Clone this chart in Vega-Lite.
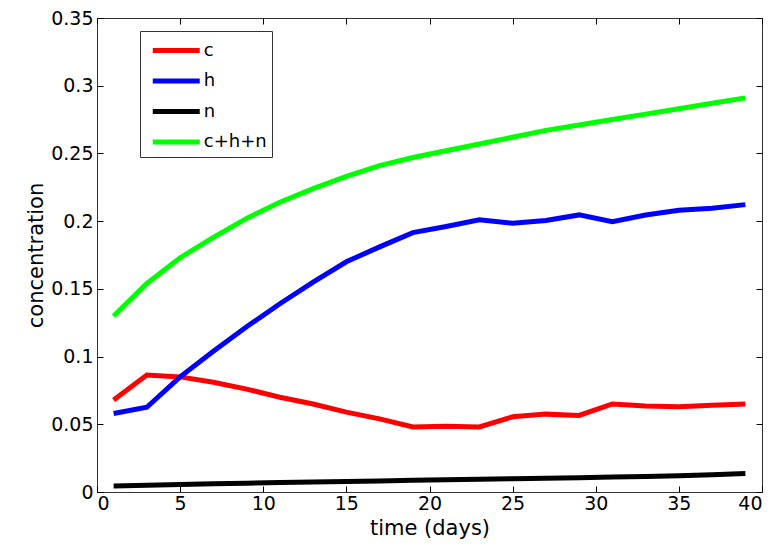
{
  "$schema": "https://vega.github.io/schema/vega-lite/v6.json",
  "width": 665,
  "height": 474,
  "autosize": {"type": "none"},
  "padding": {"left": 97, "top": 18, "right": 15, "bottom": 60},
  "background": "white",
  "config": {
    "view": {"stroke": "#333333", "strokeWidth": 1},
    "font": "DejaVu Sans",
    "axis": {"grid": false, "domain": false, "labelColor": "black", "titleColor": "black", "labelFont": "DejaVu Sans", "titleFont": "DejaVu Sans", "labelFontSize": 19, "titleFontSize": 21, "titleFontWeight": "normal"}
  },
  "data": {"values": [
    {"t":1,"s":"c","v":0.068},{"t":3,"s":"c","v":0.0864},{"t":5,"s":"c","v":0.085},{"t":7,"s":"c","v":0.081},{"t":9,"s":"c","v":0.076},{"t":11,"s":"c","v":0.07},{"t":13,"s":"c","v":0.065},{"t":15,"s":"c","v":0.059},{"t":17,"s":"c","v":0.054},{"t":19,"s":"c","v":0.048},{"t":21,"s":"c","v":0.0485},{"t":23,"s":"c","v":0.048},{"t":25,"s":"c","v":0.0555},{"t":27,"s":"c","v":0.0575},{"t":29,"s":"c","v":0.0565},{"t":31,"s":"c","v":0.065},{"t":33,"s":"c","v":0.0635},{"t":35,"s":"c","v":0.063},{"t":37,"s":"c","v":0.064},{"t":39,"s":"c","v":0.065},
    {"t":1,"s":"h","v":0.058},{"t":3,"s":"h","v":0.0626},{"t":5,"s":"h","v":0.085},{"t":7,"s":"h","v":0.104},{"t":9,"s":"h","v":0.122},{"t":11,"s":"h","v":0.139},{"t":13,"s":"h","v":0.155},{"t":15,"s":"h","v":0.17},{"t":17,"s":"h","v":0.181},{"t":19,"s":"h","v":0.1915},{"t":21,"s":"h","v":0.196},{"t":23,"s":"h","v":0.201},{"t":25,"s":"h","v":0.1984},{"t":27,"s":"h","v":0.2005},{"t":29,"s":"h","v":0.2046},{"t":31,"s":"h","v":0.1995},{"t":33,"s":"h","v":0.2045},{"t":35,"s":"h","v":0.208},{"t":37,"s":"h","v":0.2095},{"t":39,"s":"h","v":0.2122},
    {"t":1,"s":"n","v":0.0045},{"t":3,"s":"n","v":0.005},{"t":5,"s":"n","v":0.0055},{"t":7,"s":"n","v":0.006},{"t":9,"s":"n","v":0.0065},{"t":11,"s":"n","v":0.007},{"t":13,"s":"n","v":0.0074},{"t":15,"s":"n","v":0.0078},{"t":17,"s":"n","v":0.0082},{"t":19,"s":"n","v":0.0086},{"t":21,"s":"n","v":0.009},{"t":23,"s":"n","v":0.0094},{"t":25,"s":"n","v":0.0098},{"t":27,"s":"n","v":0.0102},{"t":29,"s":"n","v":0.0106},{"t":31,"s":"n","v":0.011},{"t":33,"s":"n","v":0.0115},{"t":35,"s":"n","v":0.012},{"t":37,"s":"n","v":0.0128},{"t":39,"s":"n","v":0.0137},
    {"t":1,"s":"c+h+n","v":0.13},{"t":3,"s":"c+h+n","v":0.154},{"t":5,"s":"c+h+n","v":0.173},{"t":7,"s":"c+h+n","v":0.188},{"t":9,"s":"c+h+n","v":0.202},{"t":11,"s":"c+h+n","v":0.214},{"t":13,"s":"c+h+n","v":0.224},{"t":15,"s":"c+h+n","v":0.233},{"t":17,"s":"c+h+n","v":0.241},{"t":19,"s":"c+h+n","v":0.247},{"t":21,"s":"c+h+n","v":0.252},{"t":23,"s":"c+h+n","v":0.257},{"t":25,"s":"c+h+n","v":0.262},{"t":27,"s":"c+h+n","v":0.267},{"t":29,"s":"c+h+n","v":0.271},{"t":31,"s":"c+h+n","v":0.275},{"t":33,"s":"c+h+n","v":0.279},{"t":35,"s":"c+h+n","v":0.283},{"t":37,"s":"c+h+n","v":0.287},{"t":39,"s":"c+h+n","v":0.291}
  ]},
  "layer": [
    {
      "mark": {"type": "line", "strokeWidth": 5, "strokeJoin": "miter"},
      "encoding": {
        "x": {"field": "t", "type": "quantitative", "scale": {"domain": [0, 40], "nice": false}, "axis": {"orient": "bottom", "title": "time (days)", "values": [0,5,10,15,20,25,30,35,40], "ticks": true, "tickColor": "black", "tickWidth": 1, "tickSize": -6, "labelPadding": 8, "titlePadding": 4}},
        "y": {"field": "v", "type": "quantitative", "scale": {"domain": [0, 0.35], "nice": false, "zero": false}, "axis": {"orient": "left", "title": "concentration", "values": [0,0.05,0.1,0.15,0.2,0.25,0.3,0.35], "format": "~g", "ticks": true, "tickColor": "black", "tickWidth": 1, "tickSize": -6, "labelPadding": 10, "titlePadding": 4}},
        "color": {"field": "s", "type": "nominal", "sort": ["c","h","n","c+h+n"], "scale": {"domain": ["c","h","n","c+h+n"], "range": ["#ff0000","#0000ff","#000000","#00ff00"]},
          "legend": {"title": null, "orient": "none", "legendX": 43, "legendY": 13, "symbolType": "M-2,0H2", "symbolStrokeWidth": 5, "symbolSize": 552, "symbolOffset": 16.75, "labelOffset": 13, "labelFontSize": 18, "labelFont": "DejaVu Sans", "rowPadding": 5.5, "padding": 5, "strokeColor": "#333333", "fillColor": "white"}},
        "detail": {"field": "s"}
      }
    },
    {
      "mark": {"type": "line", "opacity": 0},
      "encoding": {
        "x": {"field": "t", "type": "quantitative", "axis": {"orient": "top", "title": null, "labels": false, "values": [0,5,10,15,20,25,30,35,40], "ticks": true, "tickColor": "black", "tickWidth": 1, "tickSize": -6}},
        "y": {"field": "v", "type": "quantitative", "axis": {"orient": "right", "title": null, "labels": false, "values": [0,0.05,0.1,0.15,0.2,0.25,0.3,0.35], "ticks": true, "tickColor": "black", "tickWidth": 1, "tickSize": -6}},
        "detail": {"field": "s"}
      }
    }
  ],
  "resolve": {"axis": {"x": "independent", "y": "independent"}}
}
